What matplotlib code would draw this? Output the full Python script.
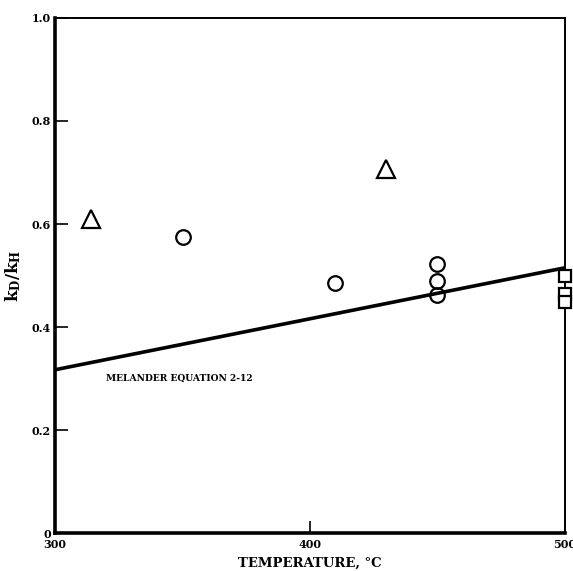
import matplotlib
matplotlib.use("Agg")
import matplotlib.pyplot as plt

# data
tri_t = [314, 430]
tri_r = [0.61, 0.707]
circ_t = [350, 410, 450, 450, 450]
circ_r = [0.575, 0.485, 0.522, 0.489, 0.462]
sq_t = [500, 500, 500]
sq_r = [0.50, 0.465, 0.448]
line_t = [300, 500]
line_r = [0.317, 0.515]

x_ticks = [300, 400, 500]
y_ticks = [0, 0.2, 0.4, 0.6, 0.8, 1.0]
y_labels = ["0", "0.2", "0.4", "0.6", "0.8", "1.0"]

plt.rcParams["font.family"] = "DejaVu Serif"
plt.rcParams["font.weight"] = "bold"
plt.rcParams["mathtext.fontset"] = "dejavuserif"
plt.rcParams["mathtext.default"] = "bf"

fig = plt.figure(figsize=(5.73, 5.71), dpi=100)
ax = fig.add_axes([0.096, 0.0665, 0.89, 0.902])

ax.plot(line_t, line_r, color="black", lw=2.6, solid_capstyle="butt", zorder=2)
ax.plot(tri_t, tri_r, ls="none", marker="^", ms=12.5, mfc="white", mec="black", mew=1.6, zorder=3)
ax.plot(circ_t, circ_r, ls="none", marker="o", ms=10.5, mfc="none", mec="black", mew=1.6, zorder=3)
ax.plot(sq_t, sq_r, ls="none", marker="s", ms=9, mfc="white", mec="black", mew=1.6,
        zorder=3, clip_on=False)

ax.text(320, 0.30, "MELANDER EQUATION 2-12", fontsize=6.6, fontweight="bold", va="center")

ax.set_xlim(300, 500)
ax.set_ylim(0, 1.0)
ax.set_xticks(x_ticks)
ax.set_xticklabels([str(t) for t in x_ticks])
ax.set_yticks(y_ticks)
ax.set_yticklabels(y_labels)
ax.tick_params(direction="in", length=9, width=1.2, labelsize=8, pad=3)
ax.tick_params(axis="x", pad=4)

ax.spines["left"].set_linewidth(2.6)
ax.spines["bottom"].set_linewidth(2.6)
ax.spines["top"].set_linewidth(1.4)
ax.spines["right"].set_linewidth(1.4)

ax.set_xlabel("TEMPERATURE, °C", fontsize=9.5, fontweight="bold", labelpad=5)
ax.set_ylabel(r"k$_\mathbf{D}$/k$_\mathbf{H}$", fontsize=12, fontweight="bold", labelpad=6)

fig.savefig("out.png", dpi=100)
